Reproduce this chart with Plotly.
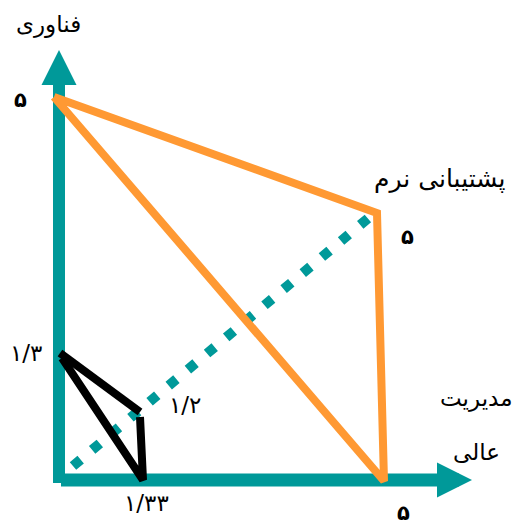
import plotly.graph_objects as go

# diagram units: origin at the corner of the two teal axes, x to the right, y upwards
axis_tech_x = [0, 0]
axis_tech_y = [-3, 410]
axis_tech_tip = (0, 430)

axis_mgmt_x = [2, 400]
axis_mgmt_y = [0, 0]
axis_mgmt_tip = (413, 0)

# software support axis (dotted diagonal)
axis_soft_x = [14, 313]
axis_soft_y = [14, 265]

# orange profile: technology 5, software 5, management 5
orange_x = [-5, 318, 325, -5]
orange_y = [383, 267, -1, 383]

# black profile: technology 1.3, software 1.2, management 1.33
black_x = [1, 81, None, 81, 84, 3]
black_y = [127, 68, None, 63, 0, 122]

labels = ["فناوری", "پشتیبانی نرم", "مدیریت", "عالی"]
labels_x = [-11, 381, 417, 417]
labels_y = [456, 302, 82, 28]
labels_size = [23, 25, 23, 23]

fives = ["۵", "۵", "۵"]
fives_x = [-39, 348, 344]
fives_y = [380, 243, -33]

values = ["۱/۳", "۱/۲", "۱/۳۳"]
values_x = [-33, 126, 87]
values_y = [127, 75, -23]

TEAL = "#009999"
ORANGE = "#FF9933"
FONT = "DejaVu Sans"

fig = go.Figure()

fig.add_trace(go.Scatter(x=axis_tech_x, y=axis_tech_y, mode="lines",
                         line=dict(color=TEAL, width=12)))
fig.add_trace(go.Scatter(x=axis_mgmt_x, y=axis_mgmt_y, mode="lines",
                         line=dict(color=TEAL, width=13)))
fig.add_trace(go.Scatter(x=[axis_tech_tip[0]], y=[axis_tech_tip[1]], mode="markers",
                         marker=dict(symbol="arrow-up", size=35, color=TEAL)))
fig.add_trace(go.Scatter(x=[axis_mgmt_tip[0]], y=[axis_mgmt_tip[1]], mode="markers",
                         marker=dict(symbol="arrow-right", size=35, color=TEAL)))
fig.add_trace(go.Scatter(x=axis_soft_x, y=axis_soft_y, mode="lines",
                         line=dict(color=TEAL, width=10, dash="10px,15px")))
fig.add_trace(go.Scatter(x=orange_x, y=orange_y, mode="lines",
                         line=dict(color=ORANGE, width=8)))
fig.add_trace(go.Scatter(x=black_x, y=black_y, mode="lines", connectgaps=False,
                         line=dict(color="black", width=8)))

for t, x, y, s in zip(labels, labels_x, labels_y, labels_size):
    fig.add_annotation(x=x, y=y, text=t, showarrow=False,
                       font=dict(family=FONT, size=s, color="black"))
for t, x, y in zip(fives, fives_x, fives_y):
    fig.add_annotation(x=x, y=y, text="<b>" + t + "</b>", showarrow=False,
                       font=dict(family=FONT, size=21, color="black"))
for t, x, y in zip(values, values_x, values_y):
    fig.add_annotation(x=x, y=y, text=t, showarrow=False,
                       font=dict(family=FONT, size=23, color="black"))

fig.update_layout(
    width=515, height=526,
    margin=dict(l=0, r=0, t=0, b=0),
    paper_bgcolor="white", plot_bgcolor="white",
    showlegend=False, hovermode=False,
    xaxis=dict(range=[-59, 456], visible=False, fixedrange=True),
    yaxis=dict(range=[-46, 480], visible=False, fixedrange=True),
)

# the page's default body margin would push the figure 8px off
fig.write_html("out.html", config={"displayModeBar": False},
               post_script="document.body.style.margin='0';")
